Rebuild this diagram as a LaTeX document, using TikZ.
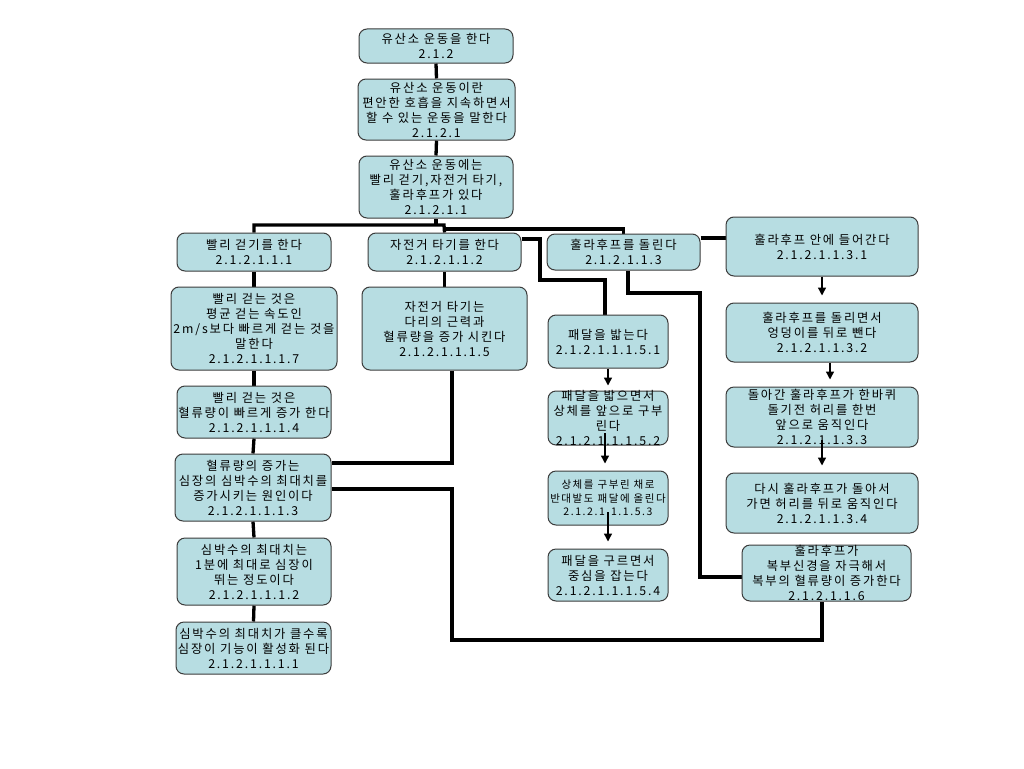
\documentclass[tikz,border=0pt]{standalone}
\usepackage{fontspec}
\newfontfamily\kr[LetterSpace=15]{Noto Sans CJK KR}
\usetikzlibrary{arrows.meta}
\pgfdeclarelayer{bg}
\pgfdeclarelayer{back}
\pgfsetlayers{back,bg,main}
\definecolor{boxfill}{RGB}{183,221,226}
\definecolor{boxline}{RGB}{60,60,60}
\tikzset{
  boxs/.style={draw=boxline, line width=1pt, fill=boxfill, rounded corners=8pt, inner sep=0pt},
  txt/.style={align=center, inner sep=0pt, font=\kr\fontsize{12.3}{15}\selectfont, text=black},
  smalltxt/.style={align=center, inner sep=0pt, font=\kr\fontsize{10.5}{13.5}\selectfont, text=black},
  conn/.style={line width=3.3pt, black},
  arr/.style={line width=1.4pt, black, -{Triangle[width=8pt,length=8pt]}, shorten >=7pt}
}
\newcommand\mkbox[7][txt]{%
  \node[boxs, minimum width=#5pt, minimum height=#6pt] (#2) at (#3,#4) {};
  \node[#1] (#2t) at (#2) {#7};}
\begin{document}
\begin{tikzpicture}[x=1pt,y=-1pt]
\begin{pgfonlayer}{back}
\fill[white] (0,0) rectangle (1024,768);
\end{pgfonlayer}
\useasboundingbox (0,0) rectangle (1024,768);
\mkbox{b1}{436}{46}{154}{34}{유산소 운동을 한다\\2.1.2}
\mkbox{b2}{436.5}{109.5}{157}{61}{유산소 운동이란\\편안한 호흡을 지속하면서\\할 수 있는 운동을 말한다\\2.1.2.1}
\mkbox{b3}{436}{187}{154}{62}{유산소 운동에는\\빨리 걷기,자전거 타기,\\훌라후프가 있다\\2.1.2.1.1}
\mkbox{b4}{254}{252}{154}{38}{빨리 걷기를 한다\\2.1.2.1.1.1}
\mkbox{b5}{444.5}{252}{153}{38}{자전거 타기를 한다\\2.1.2.1.1.2}
\mkbox{b6}{623.5}{252}{153}{36}{훌라후프를 돌린다\\2.1.2.1.1.3}
\mkbox{b7}{822}{246.5}{192}{59}{훌라후프 안에 들어간다\\2.1.2.1.1.3.1}
\mkbox{b8}{254}{328.5}{166}{83}{빨리 걷는 것은\\평균 걷는 속도인\\2m/s보다 빠르게 걷는 것을\\말한다\\2.1.2.1.1.1.7}
\mkbox{b9}{444.5}{328.5}{165}{83}{자전거 타기는\\다리의 근력과\\혈류량을 증가 시킨다\\2.1.2.1.1.1.5}
\mkbox{b10}{254}{412}{154}{52}{빨리 걷는 것은\\혈류량이 빠르게 증가 한다\\2.1.2.1.1.1.4}
\mkbox{b11}{253}{487.5}{156}{67}{혈류량의 증가는\\심장의 심박수의 최대치를\\증가시키는 원인이다\\2.1.2.1.1.1.3}
\mkbox{b12}{254}{571.5}{154}{67}{심박수의 최대치는\\1분에 최대로 심장이\\뛰는 정도이다\\2.1.2.1.1.1.2}
\mkbox{b13}{253.5}{648}{155}{52}{심박수의 최대치가 클수록\\심장이 기능이 활성화 된다\\2.1.2.1.1.1.1}
\mkbox{b14}{608}{341.5}{120}{53}{패달을 밟는다\\2.1.2.1.1.1.5.1}
\mkbox{b15}{608}{418}{120}{54}{패달을 밟으면서\\상체를 앞으로 구부\\린다\\2.1.2.1.1.1.5.2}
\mkbox[smalltxt]{b16}{608}{498}{120}{54}{상체를 구부린 채로\\반대발도 패달에 올린다\\2.1.2.1.1.1.5.3}
\mkbox{b17}{608}{575}{120}{52}{패달을 구르면서\\중심을 잡는다\\2.1.2.1.1.1.5.4}
\mkbox{b18}{822}{332.5}{192}{59}{훌라후프를 돌리면서\\엉덩이를 뒤로 뺀다\\2.1.2.1.1.3.2}
\mkbox{b19}{822}{417}{192}{60}{돌아간 훌라후프가 한바퀴\\돌기전 허리를 한번\\앞으로 움직인다\\2.1.2.1.1.3.3}
\mkbox{b20}{822}{503}{192}{60}{다시 훌라후프가 돌아서\\가면 허리를 뒤로 움직인다\\2.1.2.1.1.3.4}
\mkbox{b21}{826.5}{573}{169}{56}{훌라후프가\\복부신경을 자극해서\\복부의 혈류량이 증가한다\\2.1.2.1.1.6}
% junction coordinates
\coordinate (bus) at (436,225);
\coordinate (jL) at (254,225);
\coordinate (jM) at (444,225);
\coordinate (jM2) at (444,229);
\coordinate (c9) at (452,463);
\coordinate (c11a) at (452,489);
\coordinate (c11b) at (452,640);
\coordinate (c11c) at (822,640);
\coordinate (c5a) at (540,239);
\coordinate (c5b) at (540,280);
\coordinate (c5c) at (605,280);
\coordinate (c6a) at (628,293);
\coordinate (c6b) at (700,293);
\coordinate (c6c) at (700,577);
\coordinate (c67) at (713,238);
\coordinate (a15) at (605,433);
\coordinate (a16) at (608,512);
\coordinate (a19) at (822,440);
\begin{pgfonlayer}{bg}
\draw[conn] (b1.south) -- (b2.north);
\draw[conn] (b2.south) -- (b3.north);
\draw[conn] (b3.south) -- (bus);
\draw[conn] (b4.north) -- (jL) -- (jM) -- (b5.north);
\draw[conn] (jM2) -| (b6.north);
\draw[conn] (b4.south) -- (b8.north);
\draw[conn] (b8.south) -- (b10.north);
\draw[conn] (b10.south) -- (b11.north);
\draw[conn] (b11.south) -- (b12.north);
\draw[conn] (b12.south) -- (b13.north);
\draw[conn] (b5.south) -- (b9.north);
\draw[conn] (b9.south -| c9) -- (c9) -- (c9 -| b11.east);
\draw[conn] (b11.east |- c11a) -- (c11a) -- (c11b) -- (c11c) -- (c11c |- b21.south);
\draw[conn] (b5.east |- c5a) -- (c5a) -- (c5b) -- (c5c) -- (c5c |- b14.north);
\draw[conn] (b6.south -| c6a) -- (c6a) -- (c6b) -- (c6c) -- (c6c -| b21.west);
\draw[conn] (b6.east |- c67) -- (b7.west |- c67);
\end{pgfonlayer}
\draw[arr] (b7.south) -- (b18.north);
\draw[arr] (b18.south -| 830,0) -- (b19.north -| 830,0);
\draw[arr] (a19) -- (a19 |- b20.north);
\draw[arr, shorten >=5pt] (b14.south) -- (b15.north);
\draw[arr] (a15) -- (a15 |- b16.north);
\draw[arr] (a16) -- (a16 |- b17.north);
\end{tikzpicture}
\end{document}
